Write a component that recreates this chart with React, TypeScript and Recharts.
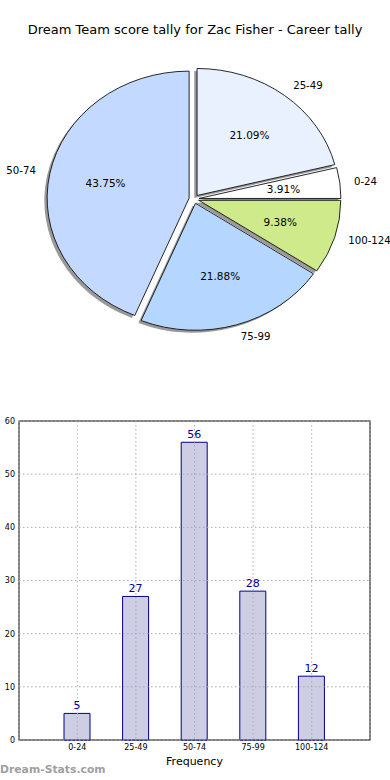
import React from 'react';
import {
  PieChart,
  Pie,
  BarChart,
  Bar,
  XAxis,
  YAxis,
  CartesianGrid,
  LabelList,
  usePlotArea,
} from 'recharts';

const ranges = ['0-24', '25-49', '50-74', '75-99', '100-124'];
const counts = [5, 27, 56, 28, 12];
const sliceColors = ['#ffffff', '#eaf1fe', '#c4d9ff', '#b5d6ff', '#cfea8b'];
const yTicks = [0, 10, 20, 30, 40, 50, 60];

const FONT = '"DejaVu Sans", sans-serif';
const RAD = Math.PI / 180;
// matplotlib drew the pie on a non-square axes, so it is an ellipse
const SQUASH = 127 / 142;
const EXPLODE = 0.035;

const pieData = ranges.map((r, i) => ({ name: r, value: counts[i], fill: sliceColors[i] }));
const barData = ranges.map((r, i) => ({ range: r, count: counts[i] }));

const ellipsePath = (p: any, dx = 0, dy = 0) => {
  const { cx, cy, outerRadius, startAngle, endAngle } = p;
  const rx = outerRadius;
  const ry = outerRadius * SQUASH;
  const mid = ((startAngle + endAngle) / 2) * RAD;
  const ox = cx + EXPLODE * rx * Math.cos(mid) + dx;
  const oy = cy - EXPLODE * ry * Math.sin(mid) + dy;
  const s = startAngle * RAD;
  const e = endAngle * RAD;
  const large = Math.abs(endAngle - startAngle) > 180 ? 1 : 0;
  return `M${ox},${oy} L${ox + rx * Math.cos(s)},${oy - ry * Math.sin(s)} A${rx},${ry} 0 ${large} 0 ${
    ox + rx * Math.cos(e)
  },${oy - ry * Math.sin(e)} Z`;
};

const SliceShadow = (p: any) => (
  <path d={ellipsePath(p, -2.8, 2.5)} fill="#333" fillOpacity={0.5} stroke="none" />
);

const Slice = (p: any) => <path d={ellipsePath(p)} fill={p.fill} stroke="#111" strokeWidth={0.9} />;

const pieLabel = (p: any) => {
  const { cx, cy, outerRadius, midAngle, index, percent } = p;
  const rx = outerRadius;
  const ry = outerRadius * SQUASH;
  const c = Math.cos(midAngle * RAD);
  const s = Math.sin(midAngle * RAD);
  const at = (k: number) => [cx + (k + EXPLODE) * rx * c, cy - (k + EXPLODE) * ry * s];
  const [nx, ny] = at(1.1);
  const [px, py] = at(0.6);
  return (
    <g key={`lbl-${index}`}>
      <text x={nx} y={ny} textAnchor={c > 0 ? 'start' : 'end'} dominantBaseline="central" fontSize={10.2} fontFamily={FONT} fill="#000">
        {ranges[index]}
      </text>
      <text x={px} y={py} textAnchor="middle" dominantBaseline="central" fontSize={10.5} fontFamily={FONT} fill="#000">
        {(percent * 100).toFixed(2)}%
      </text>
    </g>
  );
};

const Frame = () => {
  const area = usePlotArea();
  if (!area) return null;
  return <rect x={area.x} y={area.y} width={area.width} height={area.height} fill="none" stroke="#000" strokeWidth={1} />;
};

export default function App() {
  return (
    <div style={{ position: 'absolute', left: 0, top: 0, width: 390, height: 780, background: '#fff', fontFamily: FONT }}>
      <div style={{ position: 'absolute', top: 22, left: 0, width: 390, textAlign: 'center', fontSize: 13, color: '#000' }}>
        Dream Team score tally for Zac Fisher - Career tally
      </div>
      <div style={{ position: 'absolute', top: 0, left: 0 }}>
        <PieChart width={390} height={380} margin={{ top: 0, right: 0, bottom: 0, left: 0 }}>
          <Pie
            data={pieData}
            dataKey="value"
            cx={194}
            cy={199}
            outerRadius={142}
            startAngle={0}
            endAngle={360}
            shape={SliceShadow}
            isAnimationActive={false}
          />
          <Pie
            data={pieData}
            dataKey="value"
            cx={194}
            cy={199}
            outerRadius={142}
            startAngle={0}
            endAngle={360}
            shape={Slice}
            label={pieLabel}
            labelLine={false}
            isAnimationActive={false}
          />
        </PieChart>
      </div>
      <div style={{ position: 'absolute', top: 400, left: 0 }}>
        <BarChart width={390} height={380} data={barData} margin={{ top: 21, right: 20, bottom: 0, left: 0 }}>
          <XAxis
            dataKey="range"
            padding={{ left: 29, right: 29 }}
            axisLine={false}
            tickSize={0}
            tickMargin={4}
            height={40}
            tick={{ fontSize: 8, fill: '#000', fontFamily: FONT }}
            label={{ value: 'Frequency', position: 'insideBottom', offset: 15, fontSize: 11, fill: '#000', fontFamily: FONT }}
          />
          <YAxis
            domain={[0, 60]}
            ticks={yTicks}
            width={19}
            axisLine={false}
            tickSize={0}
            tickMargin={4}
            tick={{ fontSize: 8, fill: '#000', fontFamily: FONT }}
          />
          <Bar dataKey="count" barSize={26} fill="#cdcde3" stroke="#00008b" strokeWidth={1} isAnimationActive={false}>
            <LabelList dataKey="count" position="top" offset={4} fill="#00008b" fontSize={11} fontFamily={FONT} />
          </Bar>
          <CartesianGrid stroke="#aaa" strokeDasharray="1.5 2.5" zIndex={600} />
          <Frame />
        </BarChart>
      </div>
      <div style={{ position: 'absolute', top: 763, left: 0, fontSize: 10.8, fontWeight: 'bold', color: '#a0a0a0' }}>
        Dream-Stats.com
      </div>
    </div>
  );
}
